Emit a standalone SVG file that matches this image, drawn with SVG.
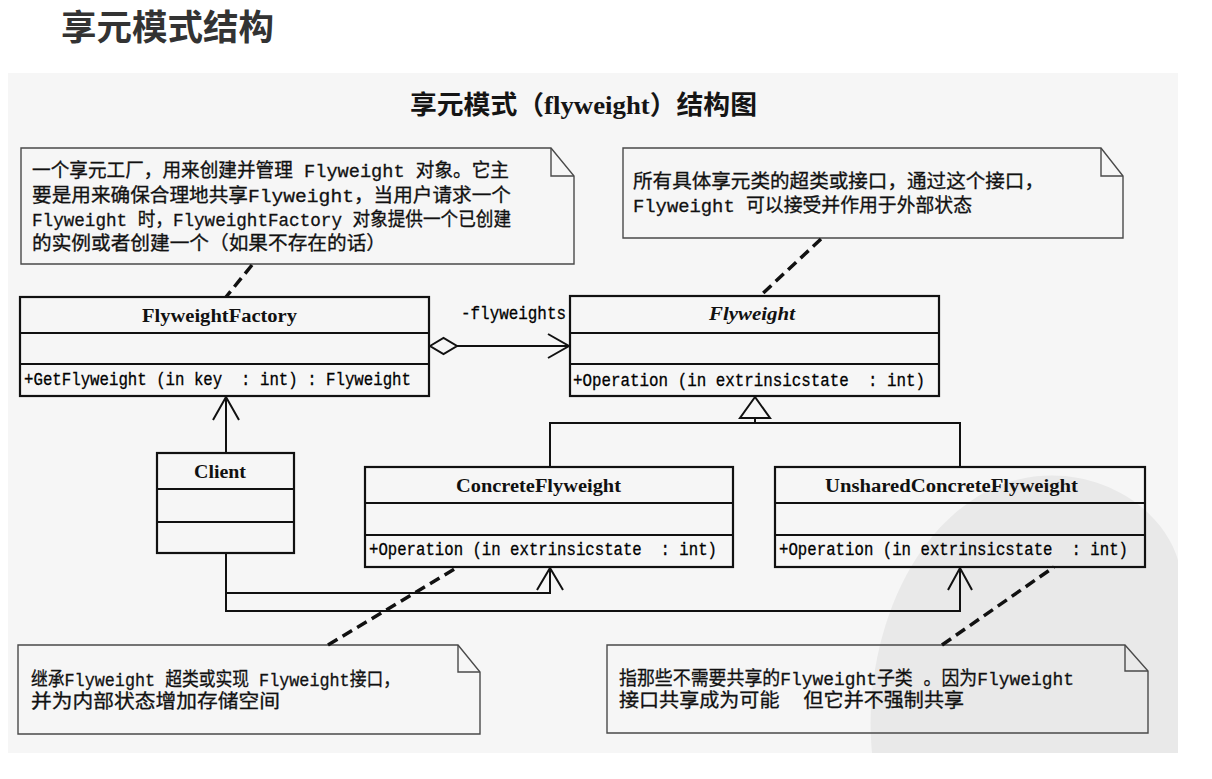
<svg xmlns="http://www.w3.org/2000/svg" width="1212" height="779" viewBox="0 0 1212 779">
<style>
.page{font-family:"Noto Sans CJK SC","Noto Sans",sans-serif;font-weight:bold;fill:#333}
.ttl{font-family:"Noto Sans CJK SC",sans-serif;font-weight:bold;fill:#151515}
.ttl .lat{font-family:"Liberation Serif","Noto Sans CJK SC",serif}
.note{fill:none;stroke:#4a4a4a;stroke-width:1.4}
.ntxt{font-family:"Liberation Mono","Noto Sans CJK SC",monospace;font-size:19px;fill:#111;stroke:#111;stroke-width:0.3}
.box{fill:none;stroke:#111;stroke-width:2.2}
.cname{font-family:"Liberation Serif","Noto Sans CJK SC",serif;font-weight:bold;font-size:18px;fill:#111}
.meth{font-family:"Liberation Mono","Noto Sans CJK SC",monospace;font-size:18px;fill:#000;stroke:#000;stroke-width:0.3}
.ln{fill:none;stroke:#111;stroke-width:2}
.hollow{fill:#f6f6f6;stroke:#111;stroke-width:2}
.dash{fill:none;stroke:#111;stroke-width:3.5;stroke-dasharray:11 6}
</style>

<text class="page" x="61" y="40" font-size="35" textLength="213" lengthAdjust="spacingAndGlyphs">享元模式结构</text>

<rect x="8" y="73" width="1170" height="680" fill="#f6f6f6"/>
<path d="M872 753 C862 650 905 525 1000 485 C1080 455 1160 500 1178 560 L1178 753 Z" fill="#e9e9e9"/>

<text class="ttl" x="410" y="114" font-size="26" textLength="347" lengthAdjust="spacingAndGlyphs">享元模式（<tspan class="lat">flyweight</tspan>）结构图</text>

<g id="note-factory">
<path class="note" d="M21 148 H551 L574 176 V264 H21 Z"/>
<path class="note" d="M551 148 V176 H574"/>
<text class="ntxt" xml:space="preserve" x="32" y="177" textLength="477" lengthAdjust="spacingAndGlyphs">一个享元工厂，用来创建并管理 Flyweight 对象。它主</text>
<text class="ntxt" xml:space="preserve" x="32" y="201.5" textLength="479" lengthAdjust="spacingAndGlyphs">要是用来确保合理地共享Flyweight，当用户请求一个</text>
<text class="ntxt" xml:space="preserve" x="32" y="226" textLength="479" lengthAdjust="spacingAndGlyphs">Flyweight 时，FlyweightFactory 对象提供一个已创建</text>
<text class="ntxt" xml:space="preserve" x="32" y="250" textLength="354" lengthAdjust="spacingAndGlyphs">的实例或者创建一个（如果不存在的话）</text>
</g>

<g id="note-flyweight">
<path class="note" d="M623 148 H1101 L1123 176 V238 H623 Z"/>
<path class="note" d="M1101 148 V176 H1123"/>
<text class="ntxt" xml:space="preserve" x="633" y="188" textLength="411" lengthAdjust="spacingAndGlyphs">所有具体享元类的超类或接口，通过这个接口，</text>
<text class="ntxt" xml:space="preserve" x="633" y="212" textLength="339" lengthAdjust="spacingAndGlyphs">Flyweight 可以接受并作用于外部状态</text>
</g>

<g id="note-concrete">
<path class="note" d="M18 645 H458 L480 672 V734 H18 Z"/>
<path class="note" d="M458 645 V672 H480"/>
<text class="ntxt" xml:space="preserve" x="31" y="686" textLength="369" lengthAdjust="spacingAndGlyphs">继承Flyweight 超类或实现 Flyweight接口，</text>
<text class="ntxt" xml:space="preserve" x="31" y="708" textLength="249" lengthAdjust="spacingAndGlyphs">并为内部状态增加存储空间</text>
</g>

<g id="note-unshared">
<path class="note" d="M607 645 H1125 L1148 671 V733 H607 Z"/>
<path class="note" d="M1125 645 V671 H1148"/>
<text class="ntxt" xml:space="preserve" x="619" y="685" textLength="455" lengthAdjust="spacingAndGlyphs">指那些不需要共享的Flyweight子类 。因为Flyweight</text>
<text class="ntxt" xml:space="preserve" x="619" y="707" textLength="345" lengthAdjust="spacingAndGlyphs">接口共享成为可能  但它并不强制共享</text>
</g>

<g id="FlyweightFactory">
<rect class="box" x="20" y="297" width="409" height="99"/>
<line class="box" x1="20" y1="333" x2="429" y2="333"/>
<line class="box" x1="20" y1="364" x2="429" y2="364"/>
<text class="cname" x="142" y="322" textLength="155" lengthAdjust="spacingAndGlyphs">FlyweightFactory</text>
<text class="meth" xml:space="preserve" x="24" y="385" textLength="387" lengthAdjust="spacingAndGlyphs">+GetFlyweight (in key  : int) : Flyweight</text>
</g>

<g id="Flyweight">
<rect class="box" x="570" y="296" width="369" height="100"/>
<line class="box" x1="570" y1="333" x2="939" y2="333"/>
<line class="box" x1="570" y1="364" x2="939" y2="364"/>
<text class="cname" font-style="italic" x="709" y="320" textLength="86" lengthAdjust="spacingAndGlyphs">Flyweight</text>
<text class="meth" xml:space="preserve" x="573" y="386" textLength="352" lengthAdjust="spacingAndGlyphs">+Operation (in extrinsicstate  : int)</text>
</g>

<g id="Client">
<rect class="box" x="157" y="453" width="137" height="100"/>
<line class="box" x1="157" y1="489" x2="294" y2="489"/>
<line class="box" x1="157" y1="522" x2="294" y2="522"/>
<text class="cname" x="194" y="478" textLength="52" lengthAdjust="spacingAndGlyphs">Client</text>
</g>

<g id="ConcreteFlyweight">
<rect class="box" x="365" y="467" width="368" height="100"/>
<line class="box" x1="365" y1="503" x2="733" y2="503"/>
<line class="box" x1="365" y1="535" x2="733" y2="535"/>
<text class="cname" x="456" y="492" textLength="165" lengthAdjust="spacingAndGlyphs">ConcreteFlyweight</text>
<text class="meth" xml:space="preserve" x="369" y="555" textLength="348" lengthAdjust="spacingAndGlyphs">+Operation (in extrinsicstate  : int)</text>
</g>

<g id="UnsharedConcreteFlyweight">
<rect class="box" x="775" y="467" width="370" height="100"/>
<line class="box" x1="775" y1="503" x2="1145" y2="503"/>
<line class="box" x1="775" y1="535" x2="1145" y2="535"/>
<text class="cname" x="825" y="492" textLength="253" lengthAdjust="spacingAndGlyphs">UnsharedConcreteFlyweight</text>
<text class="meth" xml:space="preserve" x="779" y="555" textLength="349" lengthAdjust="spacingAndGlyphs">+Operation (in extrinsicstate  : int)</text>
</g>

<g id="connectors">
<line class="ln" x1="457" y1="346" x2="569" y2="346"/>
<polygon class="hollow" points="430,346 443.5,338 457,346 443.5,354"/>
<polyline class="ln" points="548,334 569,346 548,358"/>
<text class="meth" x="461" y="319" textLength="105" lengthAdjust="spacingAndGlyphs">-flyweights</text>
<line class="ln" x1="226" y1="453" x2="226" y2="397"/>
<polyline class="ln" points="213,420 226,397 239,420"/>
<polyline class="ln" points="550,467 550,423 960,423 960,467"/>
<line class="ln" x1="755" y1="418" x2="755" y2="423"/>
<polygon class="hollow" points="755,397 740,418 770,418"/>
<polyline class="ln" points="226,553 226,611 960,611 960,568"/>
<polyline class="ln" points="948,590 960,568 972,590"/>
<polyline class="ln" points="226,593 550,593 550,568"/>
<polyline class="ln" points="537,590 550,568 563,590"/>
<line class="dash" x1="252" y1="265" x2="226" y2="297"/>
<line class="dash" x1="821" y1="239" x2="760" y2="296"/>
<line class="dash" x1="328" y1="645" x2="458" y2="567"/>
<line class="dash" x1="942" y1="645" x2="1054" y2="567"/>
</g>
</svg>
